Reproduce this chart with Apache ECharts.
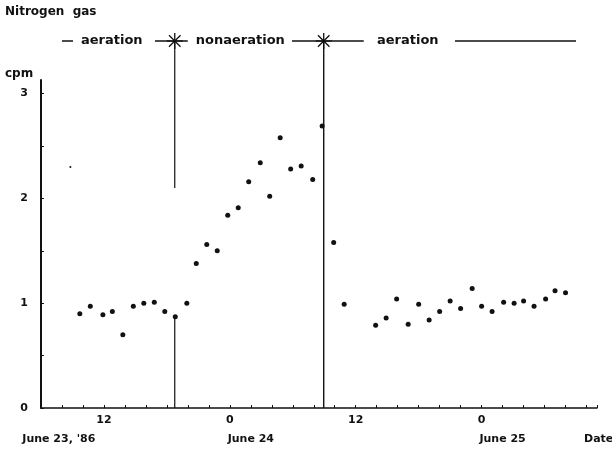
<!DOCTYPE html>
<html>
<head>
<meta charset="utf-8">
<script src="https://cdn.jsdelivr.net/npm/echarts@6/dist/echarts.min.js"></script>
<style>
  html, body { margin: 0; padding: 0; background: #fff; }
  #chart { width: 612px; height: 455px; }
</style>
</head>
<body>
<div id="chart"></div>
<script>
// hours relative to June 24, 00:00
const hours = [-14.3, -13.3, -12.1, -11.2, -10.2, -9.2, -8.2, -7.2, -6.2, -5.2, -4.1, -3.2,
  -2.2, -1.2, -0.2, 0.8, 1.8, 2.9, 3.8, 4.8, 5.8, 6.8, 7.9, 8.8, 9.9, 10.9,
  13.9, 14.9, 15.9, 17.0, 18.0, 19.0, 20.0, 21.0, 22.0, 23.1, 24.0, 25.0, 26.1,
  27.1, 28.0, 29.0, 30.1, 31.0, 32.0];
const cpm = [0.90, 0.97, 0.89, 0.92, 0.70, 0.97, 1.00, 1.01, 0.92, 0.87, 1.00, 1.38,
  1.56, 1.50, 1.84, 1.91, 2.16, 2.34, 2.02, 2.58, 2.28, 2.31, 2.18, 2.69, 1.58, 0.99,
  0.79, 0.86, 1.04, 0.80, 0.99, 0.84, 0.92, 1.02, 0.95, 1.14, 0.97, 0.92, 1.01,
  1.00, 1.02, 0.97, 1.04, 1.12, 1.10];
const strayPoint = [[-15.2, 2.3]];

const hourTicks = [-12, 0, 12, 24];
const hourTickLabels = ['12', '0', '12', '0'];
const dateTicks = [-16.3, 2, 26];
const dateLabels = ["June 23, '86", 'June 24', 'June 25'];
const yLabelValues = [0, 1, 2, 3];
const yTickValues = [0, 0.5, 1, 1.5, 2, 2.5, 3];
const switchHours = [-5.25, 8.95]; // aeration off / on

const font = 'DejaVu Sans';
const ink = '#111';
const chart = echarts.init(document.getElementById('chart'));

const boldText = (size) => ({
  color: ink,
  fontFamily: font,
  fontWeight: 'bold',
  fontSize: size,
});

chart.setOption({
  animation: false,
  grid: { left: 41, right: 15, top: 80, bottom: 47 },
  xAxis: [
    {
      type: 'value',
      min: -18,
      max: 35,
      interval: 2,
      axisLine: { onZero: false, lineStyle: { color: ink, width: 1.5 } },
      axisTick: { inside: true, length: 3, lineStyle: { color: ink } },
      splitLine: { show: false },
      axisLabel: {
        ...boldText(11),
        customValues: hourTicks,
        formatter: (v) => hourTickLabels[hourTicks.indexOf(v)],
        margin: 7,
      },
    },
    {
      type: 'value',
      min: -18,
      max: 35,
      position: 'bottom',
      offset: 19,
      axisLine: { show: false, onZero: false },
      axisTick: { show: false },
      splitLine: { show: false },
      axisLabel: {
        ...boldText(11),
        customValues: dateTicks,
        formatter: (v) => dateLabels[dateTicks.indexOf(v)],
        margin: 7,
      },
    },
  ],
  yAxis: {
    type: 'value',
    min: 0,
    max: 3.13,
    axisLine: { show: true, onZero: false, lineStyle: { color: ink, width: 2 } },
    axisTick: {
      show: true,
      inside: true,
      length: 3,
      customValues: yTickValues,
      lineStyle: { color: ink },
    },
    splitLine: { show: false },
    axisLabel: {
      ...boldText(11),
      customValues: yLabelValues,
      margin: 13,
    },
  },
  series: [
    {
      type: 'scatter',
      symbolSize: 5,
      itemStyle: { color: ink, opacity: 1 },
      data: hours.map((h, i) => [h, cpm[i]]),
    },
    {
      type: 'scatter',
      symbolSize: 2,
      itemStyle: { color: ink, opacity: 1 },
      data: strayPoint,
    },
  ],
});

// switch lines, stars and the header row
const px = (h) => chart.convertToPixel({ xAxisIndex: 0 }, h);
const py = (v) => chart.convertToPixel({ yAxisIndex: 0 }, v);
const rowY = 41;

const seg = (x1, y1, x2, y2, w) => ({
  type: 'line',
  shape: { x1, y1, x2, y2 },
  style: { stroke: ink, lineWidth: w || 1.3 },
  silent: true,
});
const star = (x, y) => {
  const r = 8;
  const d = r * 0.72;
  return [
    seg(x - r, y, x + r, y),
    seg(x, y - r, x, y + r),
    seg(x - d, y - d, x + d, y + d),
    seg(x - d, y + d, x + d, y - d),
  ];
};
const text = (x, y, str, size, align) => ({
  type: 'text',
  x, y,
  style: {
    text: str,
    ...boldText(size),
    fill: ink,
    align: align || 'left',
    verticalAlign: 'middle',
  },
  silent: true,
});

const x0 = px(switchHours[0]);
const x1 = px(switchHours[1]);
const yBase = py(0);

chart.setOption({
  graphic: [
    text(5, 12, 'Nitrogen  gas', 12),
    text(5, 74, 'cpm', 12),
    text(584, 439, 'Date', 11),
    // first switch line (broken in the middle, as printed)
    seg(x0, rowY, x0, py(2.1), 1.2),
    seg(x0, py(0.86), x0, yBase, 1.2),
    // second switch line
    seg(x1, rowY, x1, yBase, 1.4),
    ...star(x0, rowY),
    ...star(x1, rowY),
    // header row
    seg(62, rowY, 73, rowY, 1.5),
    text(81, rowY, 'aeration', 13),
    seg(155, rowY, x0 + 13, rowY),
    text(x0 + 21, rowY, 'nonaeration', 13),
    seg(292, rowY, x1 + 40, rowY, 1.5),
    text(377, rowY, 'aeration', 13),
    seg(455, rowY, 576, rowY, 1.5),
  ],
});

window.addEventListener('resize', () => chart.resize());
</script>
</body>
</html>
